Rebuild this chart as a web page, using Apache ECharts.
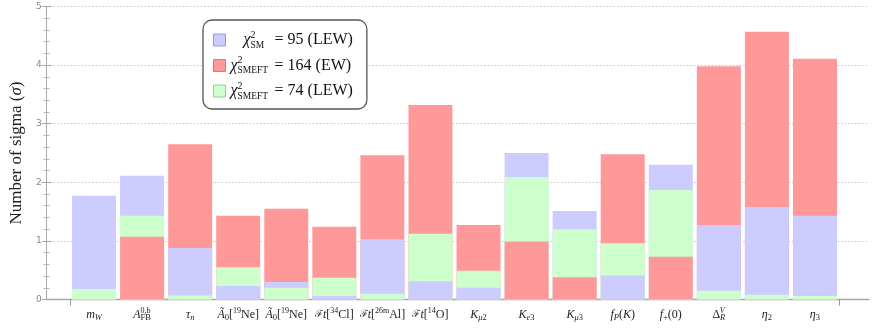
<!DOCTYPE html>
<html>
<head>
<meta charset="utf-8">
<script src="https://cdn.jsdelivr.net/npm/echarts@6/dist/echarts.min.js"></script>
<style>
  html, body { margin: 0; padding: 0; background: #fff; }
  #main { width: 872px; height: 329px; }
</style>
</head>
<body>
<div id="main"></div>
<script>
// category labels (rich text for sub/superscripts)
// zero-width "stack" tokens are centred on their position, so leading spaces push them right
const categories = [
  "{i|m}{isub|W}",
  "{i|A}{supz|     0,b}{sub|FB}",
  "{i|τ}{isub|n}",
  "{i|Ã}{sub|0}{r|[}{sup|19}{r|Ne]}",
  "{i|Ã}{sub|0}{r|[}{sup|19}{r|Ne]}",
  "{cal|ℱ}{i|t}{r|[}{sup|34}{r|Cl]}",
  "{cal|ℱ}{i|t}{r|[}{sup|26m}{r|Al]}",
  "{cal|ℱ}{i|t}{r|[}{sup|14}{r|O]}",
  "{i|K}{isub|μ}{sub|2}",
  "{i|K}{isub|e}{sub|3}",
  "{i|K}{isub|μ}{sub|3}",
  "{i|f}{isub|P}{r|(}{i|K}{r|)}",
  "{i|f}{sub|+}{r|(0)}",
  "{r|Δ}{isupz|  V}{isub|R}",
  "{i|η}{sub|2}",
  "{i|η}{sub|3}"
];
const smValues  = [1.77, 2.11, 0.88, 0.23, 0.30, 0.06, 1.03, 0.31, 0.20, 2.50, 1.51, 0.41, 2.30, 1.27, 1.58, 1.43];
const ewValues  = [0.00, 1.07, 2.65, 1.43, 1.55, 1.24, 2.46, 3.32, 1.27, 0.99, 0.38, 2.48, 0.73, 3.98, 4.57, 4.11];
const lewValues = [0.18, 1.43, 0.07, 0.55, 0.20, 0.37, 0.10, 1.12, 0.49, 2.09, 1.20, 0.96, 1.87, 0.15, 0.08, 0.06];
const yTicks = [0, 1, 2, 3, 4, 5];

const SERIF = "Liberation Serif";
const models = [
  { name: "SM",  values: smValues,  color: "#ccccff", edge: "#9a9ad8" },
  { name: "EW",  values: ewValues,  color: "#ff9999", edge: "#d87a7a" },
  { name: "LEW", values: lewValues, color: "#ccffcc", edge: "#96cf96" }
];

// tallest bar at the back, shortest in front -> one series per model per layer
function layerOf(mi, ci) {
  const order = [0, 1, 2].sort((a, b) => models[b].values[ci] - models[a].values[ci]);
  return order.indexOf(mi);
}
const series = [];
for (let layer = 0; layer < 3; layer++) {
  models.forEach((m, mi) => {
    series.push({
      name: m.name,
      type: "bar",
      xAxisIndex: 2,
      yAxisIndex: 2,
      z: 2 + layer,
      barWidth: 44,
      barGap: "-100%",
      itemStyle: { color: m.color },
      data: m.values.map((v, ci) => (layerOf(mi, ci) === layer ? v : "-"))
    });
  });
}

const legendText = {
  SM:  "{sp|}{chi|χ}{supz|2}{sub1|SM}{t|= 95 (LEW)}",
  EW:  "{chi|χ}{supz|2}{sub2|SMEFT}{t|= 164 (EW)}",
  LEW: "{chi|χ}{supz|2}{sub2|SMEFT}{t|= 74 (LEW)}"
};

const myChart = echarts.init(document.getElementById("main"));
myChart.setOption({
  animation: false,
  grid: [
    { left: 38, right: 3, top: 6.5, bottom: 29.5 },
    { left: 70, right: 33, top: 6.5, bottom: 29.5 }
  ],
  legend: {
    left: 203,
    top: 20,
    orient: "vertical",
    selectedMode: false,
    backgroundColor: "#fff",
    borderColor: "#555",
    borderWidth: 1.3,
    borderRadius: 9,
    padding: [10, 14, 8, 10],
    itemGap: 5.5,
    itemWidth: 12,
    itemHeight: 12,
    icon: "rect",
    data: models.map((m) => ({
      name: m.name,
      itemStyle: { color: m.color, borderColor: m.edge, borderWidth: 1 }
    })),
    formatter: (name) => legendText[name],
    textStyle: {
      fontFamily: SERIF,
      fontSize: 16,
      color: "#111",
      lineHeight: 20,
      rich: {
        sp: { width: 13 },
        chi: { fontFamily: SERIF, fontStyle: "italic", fontSize: 16, lineHeight: 20 },
        supz: { fontFamily: SERIF, fontSize: 10, width: 0, verticalAlign: "top", lineHeight: 20 },
        sub1: { fontFamily: SERIF, fontSize: 9.5, width: 24, verticalAlign: "bottom", lineHeight: 20 },
        sub2: { fontFamily: SERIF, fontSize: 9.5, width: 37, verticalAlign: "bottom", lineHeight: 20 },
        t: { fontFamily: SERIF, fontSize: 16, lineHeight: 20 }
      }
    }
  },
  xAxis: [
    {
      gridIndex: 0, type: "value", min: 0, max: 1, position: "bottom",
      axisLine: { show: true, lineStyle: { color: "#a8a8a8", width: 1.4 } },
      axisTick: { show: false }, axisLabel: { show: false }, splitLine: { show: false }
    },
    {
      gridIndex: 0, type: "value", min: 0, max: 1, position: "top",
      axisLine: { show: true, lineStyle: { color: "#a8a8a8", width: 1 } },
      axisTick: { show: false }, axisLabel: { show: false }, splitLine: { show: false }
    },
    {
      gridIndex: 1, type: "category", data: categories, position: "bottom",
      axisLine: { show: false },
      axisTick: { show: true, alignWithLabel: true, inside: true, length: 2.5, lineStyle: { color: "#999" } },
      axisLabel: {
        interval: 0, margin: 7, color: "#222", fontFamily: SERIF, fontSize: 12,
        rich: {
          i: { fontFamily: SERIF, fontStyle: "italic", fontSize: 12, lineHeight: 16 },
          r: { fontFamily: SERIF, fontSize: 12, lineHeight: 16 },
          cal: { fontFamily: SERIF, fontSize: 10, lineHeight: 16, color: "#333" },
          sub: { fontFamily: SERIF, fontSize: 8.5, verticalAlign: "bottom", lineHeight: 16 },
          isub: { fontFamily: SERIF, fontStyle: "italic", fontSize: 8.5, verticalAlign: "bottom", lineHeight: 16 },
          sup: { fontFamily: SERIF, fontSize: 8, verticalAlign: "top", lineHeight: 16 },
          supz: { fontFamily: SERIF, fontSize: 8, width: 0, verticalAlign: "top", lineHeight: 16 },
          isupz: { fontFamily: SERIF, fontStyle: "italic", fontSize: 8, width: 0, verticalAlign: "top", lineHeight: 16 }
        }
      }
    },
    {
      gridIndex: 1, type: "value", min: 0, max: 1, interval: 1, position: "bottom",
      axisLine: { show: false },
      axisTick: { show: true, length: 6, lineStyle: { color: "#999" } },
      axisLabel: { show: false }, splitLine: { show: false }
    }
  ],
  yAxis: [
    {
      gridIndex: 0, type: "value", min: yTicks[0], max: yTicks[yTicks.length - 1], interval: 1,
      name: "Number of sigma ({i|σ})",
      nameLocation: "middle",
      nameGap: 17,
      nameTextStyle: {
        fontFamily: SERIF, fontSize: 17, color: "#222",
        rich: { i: { fontFamily: SERIF, fontStyle: "italic", fontSize: 17 } }
      },
      axisLine: { show: true, lineStyle: { color: "#a8a8a8" } },
      axisTick: { show: true, inside: true, length: 5, lineStyle: { color: "#a8a8a8" } },
      minorTick: { show: true, splitNumber: 5, length: 3, lineStyle: { color: "#b8b8b8" } },
      axisLabel: { color: "#888", fontSize: 9, fontFamily: "DejaVu Sans", margin: 5 },
      splitLine: { show: true, lineStyle: { color: "#c4c4c4", type: [1.5, 2] } }
    },
    {
      gridIndex: 0, type: "value", min: 0, max: 5, interval: 1, position: "right",
      axisLine: { show: true, lineStyle: { color: "#a8a8a8" } },
      axisTick: { show: true, inside: true, length: 5, lineStyle: { color: "#a8a8a8" } },
      minorTick: { show: true, splitNumber: 5, length: 3, lineStyle: { color: "#b8b8b8" } },
      axisLabel: { show: false },
      splitLine: { show: false }
    },
    { gridIndex: 1, type: "value", min: 0, max: 5, show: false }
  ],
  series: series
});
</script>
</body>
</html>
